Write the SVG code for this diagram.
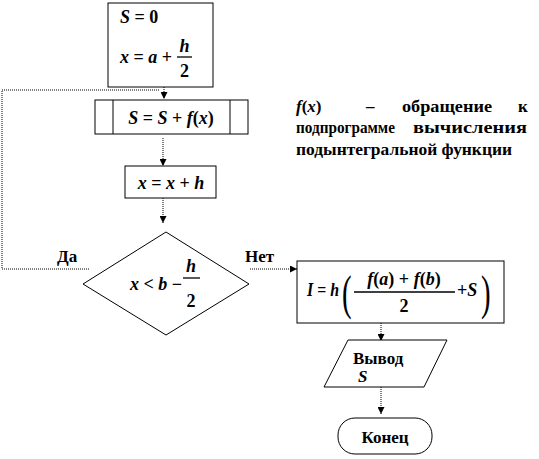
<svg xmlns="http://www.w3.org/2000/svg" width="539" height="459" viewBox="0 0 539 459">
<defs>
<style>
.shape{fill:#fff;stroke:#000;stroke-width:1}
.con{fill:none;stroke:#000;stroke-width:1;stroke-dasharray:1 1}
.m{font-weight:bold;font-size:18px;fill:#000}
.i{font-style:italic}
.t{font-weight:bold;font-size:17px;fill:#000}
.p{font-weight:normal;font-size:48px;fill:#000}
</style>
<marker id="ah" viewBox="0 0 8 8" refX="8" refY="4" markerWidth="7" markerHeight="7" markerUnits="userSpaceOnUse" orient="auto">
<path d="M0,0 L8,4 L0,8 Z" fill="#000"/>
</marker>
</defs>
<rect width="539" height="459" fill="#fff"/>
<g font-family="'Liberation Serif', 'Times New Roman', 'DejaVu Serif', serif">
<g id="connectors">
<path class="con" d="M164,87 V99" marker-end="url(#ah)"/>
<path class="con" d="M89,269 H2 V90 H160"/>
<path class="con" d="M163,138 V166" marker-end="url(#ah)"/>
<path class="con" d="M163,198 V223" marker-end="url(#ah)"/>
<path class="con" d="M250,269 H297" marker-end="url(#ah)"/>
<path class="con" d="M381,323 V341" marker-end="url(#ah)"/>
<path class="con" d="M381,387 V414" marker-end="url(#ah)"/>
</g>
<g id="init">
<rect class="shape" x="108" y="3" width="105" height="84"/>
<text class="m" x="120" y="23"><tspan class="i">S</tspan> = 0</text>
<text class="m" x="120" y="63"><tspan class="i">x</tspan> = <tspan class="i">a</tspan> +</text>
<text class="m i" x="184.5" y="52" text-anchor="middle">h</text>
<line x1="177" y1="57" x2="192" y2="57" stroke="#000" stroke-width="1.3"/>
<text class="m" x="184.5" y="77" text-anchor="middle">2</text>
</g>
<g id="call">
<rect class="shape" x="95" y="100" width="153" height="34"/>
<line x1="113" y1="100" x2="113" y2="134" stroke="#000"/>
<line x1="230" y1="100" x2="230" y2="134" stroke="#000"/>
<text class="m" x="171" y="124" text-anchor="middle"><tspan class="i">S</tspan> = <tspan class="i">S</tspan> + <tspan class="i">f</tspan>(<tspan class="i">x</tspan>)</text>
</g>
<g id="step">
<rect class="shape" x="125" y="166" width="91" height="32"/>
<text class="m" x="171" y="189" text-anchor="middle"><tspan class="i">x</tspan> = <tspan class="i">x</tspan> + <tspan class="i">h</tspan></text>
</g>
<g id="cond">
<polygon class="shape" points="166,232 249,284 166,335 83,284"/>
<text class="m" x="130" y="290"><tspan class="i">x</tspan> &lt; <tspan class="i">b</tspan> −</text>
<text class="m i" x="191" y="272" text-anchor="middle">h</text>
<line x1="183" y1="278" x2="200" y2="278" stroke="#000" stroke-width="1.3"/>
<text class="m" x="191" y="307" text-anchor="middle">2</text>
</g>
<g id="labels">
<text class="t" x="57" y="262">Да</text>
<text class="t" x="245" y="262">Нет</text>
</g>
<g id="note">
<text class="t" x="296" y="112"><tspan class="i">f</tspan>(<tspan class="i">x</tspan>)</text>
<text class="t" x="366" y="112">–</text>
<text class="t" x="402" y="112" textLength="90" lengthAdjust="spacingAndGlyphs">обращение</text>
<text class="t" x="518" y="112">к</text>
<text class="t" x="296" y="133" textLength="99" lengthAdjust="spacingAndGlyphs">подпрограмме</text>
<text class="t" x="413" y="133" textLength="114" lengthAdjust="spacingAndGlyphs">вычисления</text>
<text class="t" x="296" y="155" textLength="216" lengthAdjust="spacingAndGlyphs">подынтегральной функции</text>
</g>
<g id="result">
<rect class="shape" x="297" y="261" width="207" height="62"/>
<text class="m" x="307" y="296" textLength="32" lengthAdjust="spacingAndGlyphs"><tspan class="i">I</tspan> = <tspan class="i">h</tspan></text>
<text class="p" transform="translate(342,309) scale(0.6,1)">(</text>
<text class="m" x="404" y="285" text-anchor="middle"><tspan class="i">f</tspan>(<tspan class="i">a</tspan>) + <tspan class="i">f</tspan>(<tspan class="i">b</tspan>)</text>
<line x1="354" y1="292" x2="455" y2="292" stroke="#000" stroke-width="1.3"/>
<text class="m" x="404" y="312" text-anchor="middle">2</text>
<text class="m" x="457" y="296">+<tspan class="i">S</tspan></text>
<text class="p" transform="translate(481,309) scale(0.6,1)">)</text>
</g>
<g id="output">
<polygon class="shape" points="348,340 447,340 424,387 324,387"/>
<text class="t" x="353" y="364">Вывод</text>
<text class="t i" x="358" y="382">S</text>
</g>
<g id="end">
<rect class="shape" x="338" y="418" width="94" height="36" rx="17" ry="17"/>
<text class="t" x="385" y="443" text-anchor="middle">Конец</text>
</g>
</g>
</svg>
